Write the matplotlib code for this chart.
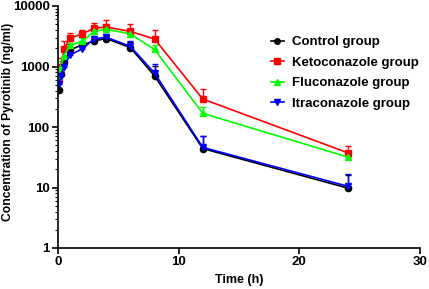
import matplotlib
matplotlib.use("Agg")
import matplotlib.pyplot as plt
from matplotlib.lines import Line2D
import numpy as np

time_h = [0.083, 0.25, 0.5, 1, 2, 3, 4, 6, 8, 12, 24]

control = [410, 750, 1180, 1880, 2280, 2650, 2900, 2050, 700, 44, 9.8]
control_sd = [120, 200, 250, 450, 400, 350, 350, 450, 320, 27, 6.5]

keto = [620, 980, 1920, 2940, 3460, 4300, 4500, 3800, 2850, 290, 37.6]
keto_sd = [250, 400, 700, 700, 500, 900, 1300, 1200, 1100, 140, 11]

flu = [700, 1000, 1500, 2250, 2600, 3800, 4150, 3450, 1910, 168, 32]
flu_sd = [150, 250, 400, 400, 400, 500, 700, 500, 350, 50, 6]

itra = [520, 700, 1000, 1550, 1950, 2850, 3050, 2150, 780, 46, 10.5]
itra_sd = [100, 150, 250, 300, 300, 400, 400, 450, 300, 25, 6.5]

groups = ["Control group", "Ketoconazole group", "Fluconazole group", "Itraconazole group"]
colors = ["#000000", "#ff0000", "#00ff00", "#0000ff"]
markers = ["o", "s", "^", "v"]

plt.rcParams['font.family'] = ['Liberation Sans', 'DejaVu Sans']
plt.rcParams['font.weight'] = 'bold'

fig = plt.figure(figsize=(4.29, 2.89), dpi=100)
ax = fig.add_axes([58/429, 1-248/289, (420-58)/429, (248-6)/289])

series = [(control, control_sd), (keto, keto_sd), (flu, flu_sd), (itra, itra_sd)]
handles = []
for (vals, sd), name, c, m in zip(series, groups, colors, markers):
    vals = np.array(vals); sd = np.array(sd)
    ax.errorbar(time_h, vals, yerr=[np.zeros_like(sd), sd], color=c, marker=m,
                markersize=4.5, linewidth=1.2, elinewidth=1.0, capsize=2.5,
                capthick=1.0)
    handles.append(Line2D([], [], color=c, marker=m, markersize=4, linewidth=1.2, label=name))

ax.set_yscale('log')
ax.set_ylim(1, 10000)
ax.set_xlim(0, 30)
ax.set_xticks([0, 10, 20, 30])
ax.set_yticks([1, 10, 100, 1000, 10000])
ax.set_yticklabels(['1', '10', '100', '1000', '10000'])
for s in ['top', 'right']:
    ax.spines[s].set_visible(False)
for s in ['left', 'bottom']:
    ax.spines[s].set_linewidth(1.2)
ax.tick_params(axis='both', which='major', labelsize=9.5, width=1.2, length=4, pad=2)
ax.tick_params(axis='y', which='minor', width=0.8, length=2)
for lbl in ax.get_xticklabels() + ax.get_yticklabels():
    lbl.set_fontweight('bold')

ax.set_xlabel('Time (h)', fontsize=9, fontweight='bold')
ax.set_ylabel('Concentration of Pyrotinib (ng/ml)', fontsize=8.7, fontweight='bold')
ax.xaxis.set_label_coords(0.5, (248-280)/242, transform=ax.transAxes)
ax.yaxis.set_label_coords((8-58)/362, (248-122)/242, transform=ax.transAxes)
ax.xaxis.label.set_verticalalignment('center')
ax.yaxis.label.set_verticalalignment('center')

leg = ax.legend(handles=handles, loc='upper left', bbox_to_anchor=(0.588, 0.875),
                frameon=False, handlelength=1.0, handletextpad=0.6,
                labelspacing=0.62, borderpad=0, borderaxespad=0,
                prop={'weight': 'bold', 'size': 9.5})

fig.savefig('out.png', dpi=100)
